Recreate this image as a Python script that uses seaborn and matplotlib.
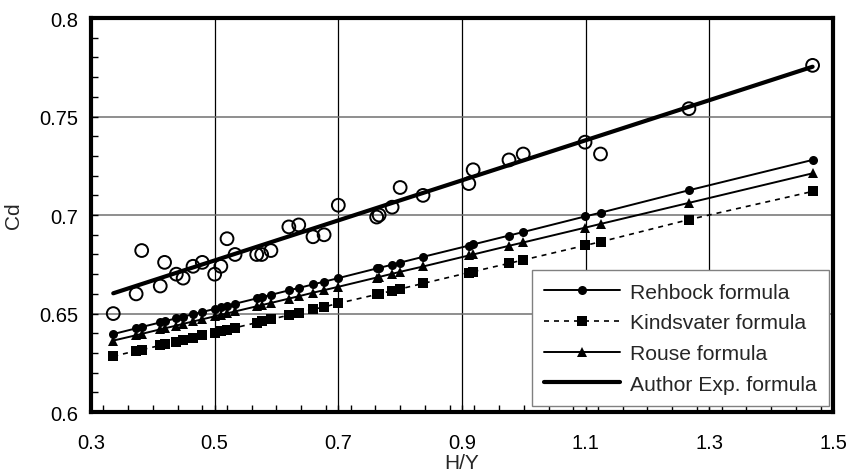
import matplotlib
matplotlib.use("Agg")
import matplotlib.pyplot as plt
from matplotlib.ticker import MultipleLocator, FormatStrFormatter
from matplotlib.lines import Line2D
import seaborn as sns
import pandas as pd

# Head-to-crest-height ratio shared by every series
hy = [0.336, 0.373, 0.382, 0.412, 0.419, 0.438, 0.449, 0.465, 0.480, 0.500,
      0.510, 0.520, 0.533, 0.568, 0.576, 0.591, 0.620, 0.636, 0.659, 0.677,
      0.700, 0.762, 0.766, 0.787, 0.800, 0.837, 0.911, 0.918, 0.976, 0.999,
      1.099, 1.124, 1.267, 1.467]

# Measured discharge coefficients
cd_measured = [0.650, 0.660, 0.682, 0.664, 0.676, 0.670, 0.668, 0.674, 0.676, 0.670,
               0.674, 0.688, 0.680, 0.680, 0.680, 0.682, 0.694, 0.695, 0.689, 0.690,
               0.705, 0.699, 0.700, 0.704, 0.714, 0.710, 0.716, 0.723, 0.728, 0.731,
               0.737, 0.731, 0.754, 0.776]

cd_rehbock = [0.6396, 0.6425, 0.6432, 0.6455, 0.6461, 0.6476, 0.6484, 0.6497, 0.6508, 0.6524,
              0.6532, 0.6540, 0.6550, 0.6577, 0.6583, 0.6595, 0.6618, 0.6630, 0.6648, 0.6662,
              0.6680, 0.6729, 0.6732, 0.6748, 0.6759, 0.6788, 0.6845, 0.6851, 0.6896, 0.6914,
              0.6993, 0.7012, 0.7126, 0.7280]

cd_kindsvater = [0.6283, 0.6311, 0.6317, 0.6338, 0.6344, 0.6358, 0.6366, 0.6378, 0.6389, 0.6403,
                 0.6411, 0.6418, 0.6428, 0.6454, 0.6460, 0.6471, 0.6492, 0.6504, 0.6521, 0.6534,
                 0.6552, 0.6597, 0.6600, 0.6616, 0.6625, 0.6653, 0.6708, 0.6713, 0.6755, 0.6772,
                 0.6846, 0.6864, 0.6977, 0.7120]

cd_rouse = [0.6363, 0.6390, 0.6397, 0.6420, 0.6425, 0.6439, 0.6448, 0.6460, 0.6471, 0.6486,
            0.6494, 0.6501, 0.6511, 0.6537, 0.6543, 0.6554, 0.6576, 0.6588, 0.6606, 0.6619,
            0.6636, 0.6683, 0.6686, 0.6702, 0.6712, 0.6739, 0.6795, 0.6800, 0.6844, 0.6861,
            0.6936, 0.6955, 0.7062, 0.7212]

# Fitted experimental relation (end points)
author_hy = [0.336, 1.467]
author_cd = [0.6603, 0.7753]

x_ticks = [0.3, 0.5, 0.7, 0.9, 1.1, 1.3, 1.5]
y_ticks = [0.6, 0.65, 0.7, 0.75, 0.8]

sns.set_style("white")
plt.rcParams["font.family"] = ["Liberation Sans", "DejaVu Sans"]

fig = plt.figure(figsize=(8.52, 4.77), dpi=100)
ax = fig.add_axes([0.1068, 0.134, 0.8709, 0.826])

df = pd.DataFrame({"hy": hy, "measured": cd_measured, "rehbock": cd_rehbock,
                   "kindsvater": cd_kindsvater, "rouse": cd_rouse})
df_author = pd.DataFrame({"hy": author_hy, "cd": author_cd})

ax.set_xlim(0.3, 1.5)
ax.set_ylim(0.6, 0.8)

# grid
for xv in x_ticks[1:-1]:
    ax.axvline(xv, color="black", lw=0.9, zorder=0)
for yv in y_ticks[1:-1]:
    ax.axhline(yv, color="#707070", lw=1.1, zorder=0)

DASH = (3, 3)

sns.lineplot(data=df, x="hy", y="rehbock", ax=ax, color="black", lw=1.4,
             marker="o", markersize=6.5, markeredgewidth=0, zorder=3)
sns.lineplot(data=df, x="hy", y="kindsvater", ax=ax, color="black", lw=1.2,
             marker="s", markersize=6.5, markeredgewidth=0, zorder=3)
ax.lines[-1].set_dashes(DASH)
sns.lineplot(data=df, x="hy", y="rouse", ax=ax, color="black", lw=1.4,
             marker="^", markersize=6.5, markeredgewidth=0, zorder=3)
sns.lineplot(data=df_author, x="hy", y="cd", ax=ax, color="black", lw=3.0, zorder=4)
sns.scatterplot(data=df, x="hy", y="measured", ax=ax, s=85, facecolor="none",
                edgecolor="black", linewidth=1.4, zorder=5)

ax.set_xticks(x_ticks)
ax.set_yticks(y_ticks)
ax.xaxis.set_major_formatter(FormatStrFormatter("%g"))
ax.yaxis.set_major_formatter(FormatStrFormatter("%g"))
ax.xaxis.set_minor_locator(MultipleLocator(0.04))
ax.yaxis.set_minor_locator(MultipleLocator(0.01))
ax.tick_params(which="both", direction="in", length=5, width=1, color="black",
               labelsize=14.5, labelcolor="black")
ax.tick_params(axis="x", which="both", bottom=True, top=False, pad=15)
ax.tick_params(axis="y", which="both", left=True, right=False, pad=9)

for sp in ax.spines.values():
    sp.set_color("black")
    sp.set_linewidth(3.0)

ax.set_xlabel("H/Y", fontsize=15, labelpad=1)
ax.set_ylabel("Cd", fontsize=15, labelpad=12)

handles = [
    Line2D([], [], color="black", lw=1.4, marker="o", markersize=6.5, markeredgewidth=0),
    Line2D([], [], color="black", lw=1.2, marker="s", markersize=6.5, markeredgewidth=0,
           dashes=DASH),
    Line2D([], [], color="black", lw=1.4, marker="^", markersize=6.5, markeredgewidth=0),
    Line2D([], [], color="black", lw=3.0),
]
labels = ["Rehbock formula", "Kindsvater formula", "Rouse formula", "Author Exp. formula"]
leg = ax.legend(handles, labels, loc="lower right", bbox_to_anchor=(0.995, 0.015),
                borderaxespad=0, fontsize=15.2, handlelength=3.6, handletextpad=0.45,
                labelspacing=0.55, frameon=True, fancybox=False, borderpad=0.6)
leg.get_frame().set_edgecolor("#808080")
leg.get_frame().set_linewidth(1.0)
leg.get_frame().set_alpha(1)
leg.set_zorder(10)

fig.savefig("out.png", dpi=100)
